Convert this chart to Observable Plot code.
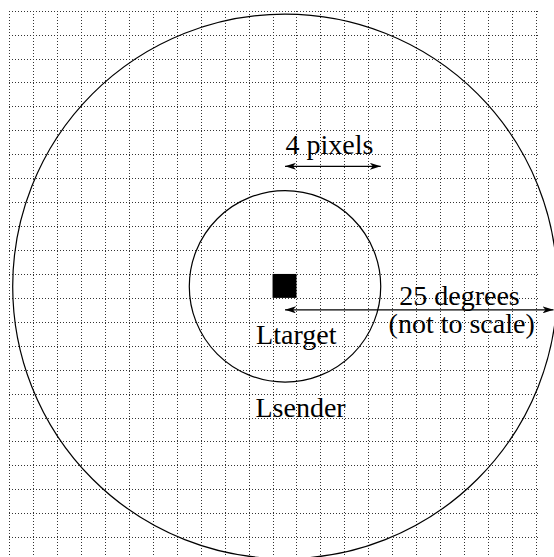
<!DOCTYPE html>
<html>
<head>
<meta charset="utf-8">
<script src="https://cdn.jsdelivr.net/npm/d3@7"></script>
<script src="https://cdn.jsdelivr.net/npm/@observablehq/plot@0.6"></script>
<style>
  html, body { margin: 0; padding: 0; background: white; }
  #chart svg { display: block; }
</style>
</head>
<body>
<div id="chart"></div>
<script>
// Grid line indices (one unit = one grid cell)
const gridCols = [0,1,2,3,4,5,6,7,8,9,10,11,12,13,14,15,16,17,18,19,20,21,22];
const gridRows = [0,1,2,3,4,5,6,7,8,9,10,11,12,13,14,15,16,17,18,19,20,21,22];

// Target pixel (one grid cell)
const targetX1 = [11];
const targetX2 = [12];
const targetY1 = [11];
const targetY2 = [12];

// Circles centred on the target
const circleNames = ["Ltarget", "Lsender"];
const circleCX = [11.5, 11.5];
const circleCY = [11.5, 11.5];
const circleR = [4, 11.38];

// Double-headed arrows
const arrowNames = ["4 pixels", "25 degrees"];
const arrowX1 = [11.5, 11.5];
const arrowX2 = [15.5, 22.72];
const arrowY = [6.48, 12.48];

// Labels (baseline positions)
const labelTexts = ["4 pixels", "25 degrees", "(not to scale)", "Ltarget", "Lsender"];
const labelX = [13.36, 18.79, 18.88, 11.97, 12.15];
const labelY = [5.95, 12.26, 13.46, 13.9, 16.94];

const circles = circleNames.map((n, i) => ({name: n, x: circleCX[i], y: circleCY[i], r: circleR[i]}));
const arrows = arrowNames.map((n, i) => ({name: n, x1: arrowX1[i], x2: arrowX2[i], y: arrowY[i]}));
const labels = labelTexts.map((t, i) => ({text: t, x: labelX[i], y: labelY[i]}));
const target = targetX1.map((d, i) => ({x1: d, x2: targetX2[i], y1: targetY1[i], y2: targetY2[i]}));

function head(color) {
  const m = d3.create("svg:marker")
    .attr("viewBox", "-11 -3.5 11 7")
    .attr("markerWidth", 11)
    .attr("markerHeight", 7)
    .attr("markerUnits", "userSpaceOnUse")
    .attr("orient", "auto-start-reverse")
    .attr("refX", 0)
    .attr("refY", 0)
    .attr("fill", "black")
    .attr("stroke", "none");
  m.append("path").attr("d", "M-11,-3.5L0,0L-11,3.5L-8,0Z");
  return m.node();
}

const chart = Plot.plot({
  width: 554,
  height: 557,
  margin: 0,
  x: {domain: [0, 22], range: [9.3, 535.8], axis: null},
  y: {domain: [0, 22], range: [10.7, 537.2], axis: null},
  r: {type: "linear", domain: [0, 1], range: [0, 23.93]},
  style: {background: "white", overflow: "hidden"},
  marks: [
    Plot.ruleX(gridCols, {x: d => d, y1: 0, y2: 23, stroke: "#333", strokeWidth: 1, strokeDasharray: "1,2", shapeRendering: "crispEdges"}),
    Plot.ruleY(gridRows, {y: d => d, x1: 0, x2: 22.1, stroke: "#333", strokeWidth: 1, strokeDasharray: "1,2", shapeRendering: "crispEdges"}),
    Plot.rect(target, {x1: "x1", x2: "x2", y1: "y1", y2: "y2", fill: "black"}),
    Plot.dot(circles, {x: "x", y: "y", r: "r", fill: "none", stroke: "black", strokeWidth: 1.2}),
    Plot.link(arrows, {x1: "x1", x2: "x2", y1: "y", y2: "y", stroke: "black", strokeWidth: 1.3, markerStart: head, markerEnd: head}),
    Plot.text(labels, {x: "x", y: "y", text: "text", textAnchor: "middle", lineAnchor: "bottom",
      fontFamily: "Liberation Serif", fontSize: 28, fill: "black"})
  ]
});
document.getElementById("chart").appendChild(chart);
</script>
</body>
</html>
